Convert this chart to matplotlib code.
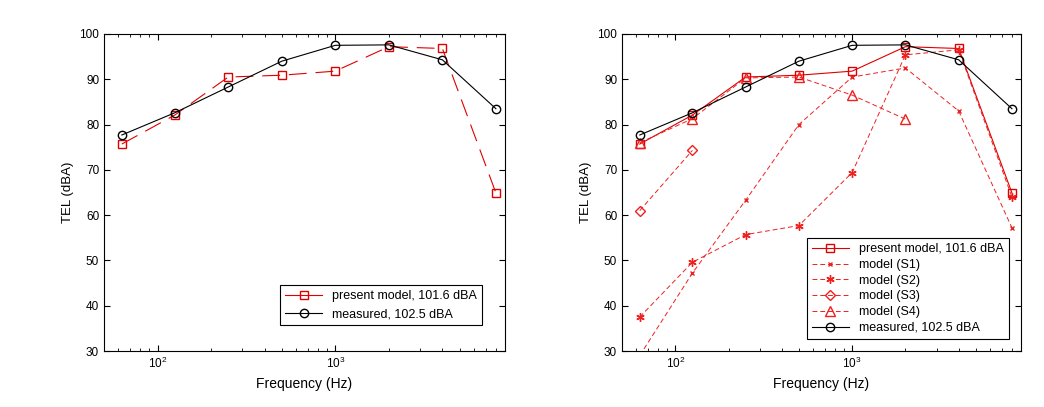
import matplotlib
matplotlib.use('Agg')
import matplotlib.pyplot as plt

plt.rcParams['font.family'] = ['Liberation Sans', 'DejaVu Sans']

freq = [63, 125, 250, 500, 1000, 2000, 4000, 8000]
present = [75.7, 82.1, 90.5, 90.9, 91.8, 97.2, 96.8, 64.9]
measured = [77.7, 82.6, 88.3, 94.0, 97.5, 97.6, 94.3, 83.5]
s1 = [29.0, 47.2, 63.3, 80.0, 90.5, 92.5, 83.0, 57.2]
s2 = [37.5, 49.6, 55.7, 57.7, 69.4, 95.4, 96.5, 64.0]
s3_freq = [63, 125]
s3 = [61.0, 74.3]
s4_freq = [63, 125, 250, 500, 1000, 2000]
s4 = [76.0, 81.3, 90.3, 90.5, 86.5, 81.2]

red = '#e00000'
light = '#ee2020'
fig = plt.figure(figsize=(10.44, 4.07), dpi=100)
ax1 = fig.add_axes([104/1044, 1-351/407, 401/1044, 317/407])
ax2 = fig.add_axes([622/1044, 1-351/407, 399/1044, 317/407])

ax1.plot(freq, present, color=red, lw=0.8, dashes=(16, 8), marker='s', ms=6,
         mfc='none', mec=red, label='present model, 101.6 dBA')
ax1.plot(freq, measured, color='black', lw=0.8, marker='o', ms=6,
         mfc='none', label='measured, 102.5 dBA')

ax2.plot(freq, present, color=red, lw=0.8, marker='s', ms=6,
         mfc='none', mec=red, label='present model, 101.6 dBA')
ax2.plot(freq, s1, color=light, lw=0.7, dashes=(5, 3), marker='x', ms=3.5,
         label='model (S1)')
ax2.plot(freq, s2, color=light, lw=0.7, dashes=(5, 3), marker=(6, 2, 0), ms=6,
         mew=1.0, label='model (S2)')
ax2.plot(s3_freq, s3, color=light, lw=0.7, dashes=(5, 3), marker='D', ms=5,
         mfc='none', label='model (S3)')
ax2.plot(s4_freq, s4, color=light, lw=0.7, dashes=(5, 3), marker='^', ms=6.5,
         mfc='none', label='model (S4)')
ax2.plot(freq, measured, color='black', lw=0.8, marker='o', ms=6,
         mfc='none', label='measured, 102.5 dBA')

legend_pos = {ax1: ((0.943, 0.082), 0.45), ax2: ((0.97, 0.038), 0.3)}
for ax in (ax1, ax2):
    ax.set_xscale('log')
    ax.set_xlim(50, 9000)
    ax.set_ylim(30, 100)
    ax.set_yticks(range(30, 101, 10))
    ax.tick_params(which='both', direction='in', top=True, right=True, labelsize=8.5)
    ax.tick_params(which='major', length=4)
    ax.tick_params(which='minor', length=2.5)
    ax.set_xlabel('Frequency (Hz)', fontsize=10)
    ax.set_ylabel('TEL (dBA)', fontsize=9.5)
    anchor, spacing = legend_pos[ax]
    leg = ax.legend(loc='lower right', bbox_to_anchor=anchor, fontsize=9,
                    fancybox=False, edgecolor='black', framealpha=1,
                    handlelength=3.0, borderaxespad=0, labelspacing=spacing)
    leg.get_frame().set_linewidth(0.8)
    if ax is ax1:
        leg.get_lines()[0].set_linestyle('-')

fig.savefig('out.png', dpi=100)
